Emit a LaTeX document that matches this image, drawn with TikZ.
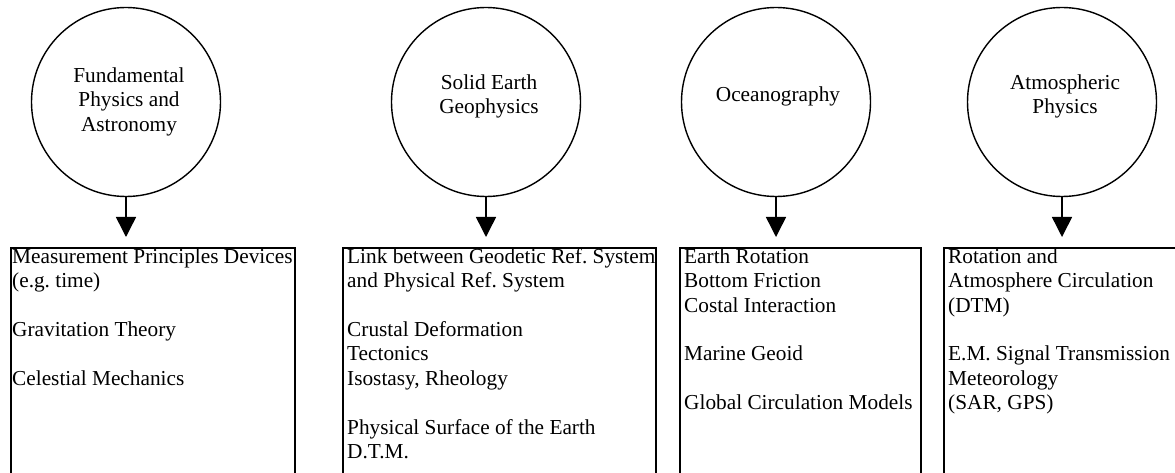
\documentclass[tikz,border=0pt]{standalone}
\usepackage{fontspec}
\setmainfont{Liberation Serif}
\usetikzlibrary{arrows.meta}
\frenchspacing
\begin{document}
\begin{tikzpicture}[x=1pt,y=-1pt,
  circ/.style={draw=black,line width=1.4pt,circle,minimum size=189pt,inner sep=0pt},
  boxn/.style={draw=black,line width=2pt,rectangle,anchor=north west,minimum height=260pt,inner sep=0pt},
  txt/.style={font=\frenchspacing\fontsize{21.3}{24.4}\selectfont,inner sep=0pt,align=left,anchor=north west},
  ctxt/.style={font=\frenchspacing\fontsize{21.3}{24.4}\selectfont,inner sep=0pt,align=center,anchor=north},
  arr/.style={line width=1.5pt,-{Triangle[width=20pt,length=20pt]},shorten >=10pt}
]
\useasboundingbox (0,0) rectangle (1175,473);
\clip (0,0) rectangle (1175,473);
\fill[white] (0,0) rectangle (1175,473);
% circles
\node[circ] (c1) at (126,102) {};
\node[circ] (c2) at (486,102) {};
\node[circ] (c3) at (776,102) {};
\node[circ] (c4) at (1062,102) {};
\node[ctxt] (t1) at (129,66.3) {\rule{0pt}{16pt}Fundamental\\Physics and\\Astronomy};
\node[ctxt] (t2) at (489,73.3) {\rule{0pt}{16pt}Solid Earth\\Geophysics};
\node[ctxt] (t3) at (778,85.5) {\rule{0pt}{16pt}Oceanography};
\node[ctxt] (t4) at (1065,73.3) {\rule{0pt}{16pt}Atmospheric\\Physics};
% boxes
\node[boxn,minimum width=284pt] (b1) at (10,247) {};
\node[boxn,minimum width=313pt] (b2) at (342,247) {};
\node[boxn,minimum width=241pt] (b3) at (679,247) {};
\node[boxn,minimum width=300pt] (b4) at (943,247) {};
\node[txt] (x1) at ([xshift=2pt]b1.north west) {\rule{0pt}{16pt}Measurement Principles Devices\\(e.g. time)\\[24.4pt]Gravitation Theory\\[24.4pt]Celestial Mechanics};
\node[txt] (x2) at ([xshift=5pt]b2.north west) {\rule{0pt}{16pt}Link between Geodetic Ref. System\\and Physical Ref. System\\[24.4pt]Crustal Deformation\\Tectonics\\Isostasy, Rheology\\[24.4pt]Physical Surface of the Earth\\D.T.M.};
\node[txt] (x3) at ([xshift=5pt]b3.north west) {\rule{0pt}{16pt}Earth Rotation\\Bottom Friction\\Costal Interaction\\[24.4pt]Marine Geoid\\[24.4pt]Global Circulation Models};
\node[txt] (x4) at ([xshift=5pt]b4.north west) {\rule{0pt}{16pt}Rotation and\\Atmosphere Circulation\\(DTM)\\[24.4pt]E.M. Signal Transmission\\Meteorology\\(SAR, GPS)};
% arrows
\draw[arr] (c1.south) -- (c1.south |- b1.north);
\draw[arr] (c2.south) -- (c2.south |- b2.north);
\draw[arr] (c3.south) -- (c3.south |- b3.north);
\draw[arr] (c4.south) -- (c4.south |- b4.north);
\end{tikzpicture}
\end{document}
